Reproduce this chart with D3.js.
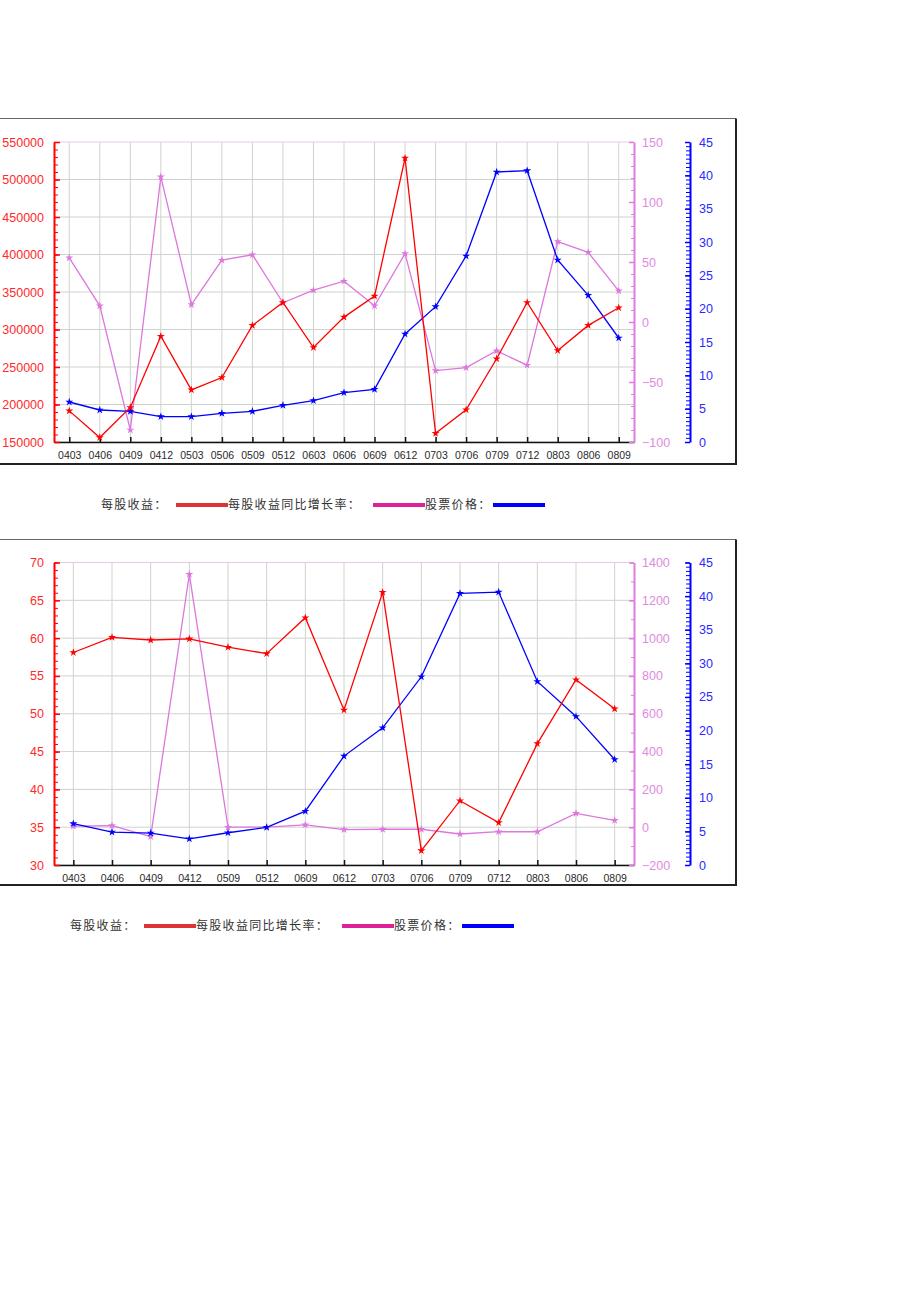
<!DOCTYPE html>
<html>
<head>
<meta charset="utf-8">
<script src="https://cdn.jsdelivr.net/npm/d3@7/dist/d3.min.js"></script>
<style>
  html, body { margin: 0; padding: 0; background: #ffffff; }
  svg { display: block; }
  .lg { font-family: "Noto Sans CJK SC", sans-serif; font-size: 12px; fill: #333333; letter-spacing: 1.3px; }
</style>
</head>
<body>
<svg id="chart" width="920" height="1302"></svg>
<script>
// ---------- Data: chart A (top) ----------
const categoriesA = ["0403","0406","0409","0412","0503","0506","0509","0512","0603","0606","0609","0612","0703","0706","0709","0712","0803","0806","0809"];
const epsA     = [191500,156000,196000,291000,219500,236000,305500,336000,276000,316500,344500,528500,161500,193000,261000,336000,272000,305500,329000];
const growthA  = [53.5,13.5,-90,121,14.5,51.5,56,16,26.5,34,13.5,57,-40.5,-38,-24,-36,67,58,26];
const priceA   = [6.0,4.8,4.6,3.8,3.8,4.3,4.6,5.5,6.2,7.4,7.9,16.2,20.3,27.9,40.5,40.7,27.3,22.0,15.6];
const leftTicksA   = [150000,200000,250000,300000,350000,400000,450000,500000,550000];
const growthTicksA = [-100,-50,0,50,100,150];
const priceTicks   = [0,5,10,15,20,25,30,35,40,45];

// ---------- Data: chart B (bottom) ----------
const categoriesB = ["0403","0406","0409","0412","0509","0512","0609","0612","0703","0706","0709","0712","0803","0806","0809"];
const epsB    = [58.1,60.1,59.75,59.9,58.8,57.95,62.7,50.5,66.05,31.9,38.5,35.6,46.05,54.5,50.65];
const growthB = [6,8,-50,1338,0,0,12,-13,-11,-11,-36,-24,-24,73,36];
const priceB  = [6.15,4.9,4.75,3.9,4.8,5.6,8.0,16.2,20.4,28.0,40.4,40.6,27.3,22.1,15.7];
const leftTicksB   = [30,35,40,45,50,55,60,65,70];
const growthTicksB = [-200,0,200,400,600,800,1000,1200,1400];

const legendLabels = ["每股收益：", "每股收益同比增长率：", "股票价格："];

const C = {
  red: "#ff0000", pink: "#dd77dd", blue: "#0000ff",
  redLbl: "#ff2a2a", pinkLbl: "#e08ae0", blueLbl: "#2a2aff",
  grid: "#cfd3cf",
  lgRed: "#dd3333", lgPink: "#dd2299", lgBlue: "#0000ff"
};

const svg = d3.select("#chart");
const fmt = d3.format("d");

function range(a, b, step) { return d3.range(a, b + step / 2, step); }

function drawChart(cfg) {
  const g = svg.append("g");
  const L = 54, R = 634, BX = 690;
  const T = cfg.top, B = cfg.bottom;

  // frame
  g.append("line").attr("x1", -5).attr("x2", cfg.frameR).attr("y1", cfg.frameT).attr("y2", cfg.frameT)
    .attr("stroke", "#666").attr("stroke-width", 1);
  g.append("line").attr("x1", cfg.frameR).attr("x2", cfg.frameR).attr("y1", cfg.frameT).attr("y2", cfg.frameB)
    .attr("stroke", "#222").attr("stroke-width", 2);
  g.append("line").attr("x1", -5).attr("x2", cfg.frameR + 1).attr("y1", cfg.frameB).attr("y2", cfg.frameB)
    .attr("stroke", "#222").attr("stroke-width", 2);

  const x = d3.scalePoint().domain(cfg.categories).range([L, R]).padding(0.5);
  const yL = d3.scaleLinear().domain(cfg.leftDomain).range([B, T]);
  const yG = d3.scaleLinear().domain(cfg.growthDomain).range([B, T]);
  const yP = d3.scaleLinear().domain([0, 45]).range([B, T]);

  // grid
  const grid = g.append("g");
  grid.selectAll("line.v").data(cfg.categories).join("line")
    .attr("x1", d => x(d)).attr("x2", d => x(d)).attr("y1", T).attr("y2", B)
    .attr("stroke", C.grid).attr("stroke-width", 1);
  grid.selectAll("line.h").data(cfg.leftTicks).join("line")
    .attr("x1", L).attr("x2", R).attr("y1", d => yL(d)).attr("y2", d => yL(d))
    .attr("stroke", d => d === cfg.leftDomain[1] ? "#e6c8e6" : C.grid).attr("stroke-width", 1);

  // x axis
  const xAxis = g.append("g").attr("transform", `translate(0,${B})`)
    .call(d3.axisBottom(x).tickSizeInner(-5).tickSizeOuter(0).tickPadding(10));
  xAxis.select(".domain").attr("stroke", "#111").attr("stroke-width", 1.5);
  xAxis.selectAll(".tick line").attr("stroke", "#111").attr("stroke-width", 1.5);
  xAxis.selectAll("text").attr("fill", "#2a2a2a").attr("font-family", "Liberation Sans, Arial, sans-serif")
    .attr("font-size", 10.5).attr("dy", "0.71em");

  function yAxis(scale, xpos, side, majors, minors, color, lblColor, major, minor, pad) {
    const mk = side === "left" ? d3.axisLeft : d3.axisRight;
    const gm = g.append("g").attr("transform", `translate(${xpos},0)`)
      .call(mk(scale).tickValues(minors).tickSizeInner(-minor).tickSizeOuter(0).tickFormat(""));
    gm.select(".domain").remove();
    gm.selectAll(".tick line").attr("stroke", color).attr("stroke-width", 1);
    const ga = g.append("g").attr("transform", `translate(${xpos},0)`)
      .call(mk(scale).tickValues(majors).tickSizeInner(-major).tickSizeOuter(0).tickPadding(pad).tickFormat(fmt));
    ga.select(".domain").attr("stroke", color).attr("stroke-width", 2);
    ga.selectAll(".tick line").attr("stroke", color).attr("stroke-width", 1.5);
    ga.selectAll("text").attr("fill", lblColor).attr("font-family", "Liberation Sans, Arial, sans-serif")
      .attr("font-size", 12.5);
  }
  yAxis(yL, L, "left", cfg.leftTicks, cfg.leftMinor, C.red, C.redLbl, 6, 4, 10);
  yAxis(yG, R, "right", cfg.growthTicks, cfg.growthMinor, "#e07ce0", C.pinkLbl, 5, 3, 8);
  yAxis(yP, BX, "right", priceTicks, range(0, 45, 0.625), C.blue, C.blueLbl, 5, 4, 9);

  // series
  const series = [
    { vals: cfg.growth, y: yG, color: C.pink },
    { vals: cfg.price, y: yP, color: C.blue },
    { vals: cfg.eps, y: yL, color: C.red }
  ];
  series.forEach(s => {
    const pts = cfg.categories.map((c, i) => [x(c), s.y(s.vals[i])]);
    g.append("path").attr("d", d3.line()(pts)).attr("fill", "none")
      .attr("stroke", s.color).attr("stroke-width", 1.3);
    g.selectAll(null).data(pts).join("path")
      .attr("transform", d => `translate(${d[0]},${d[1]})`)
      .attr("d", d3.symbol(d3.symbolStar, 20)).attr("fill", s.color);
  });

  // legend
  const lg = g.append("g");
  const ly = cfg.legendY;
  const colors = [C.lgRed, C.lgPink, C.lgBlue];
  legendLabels.forEach((t, i) => {
    lg.append("text").attr("class", "lg").attr("x", cfg.legendText[i]).attr("y", ly).attr("dy", "0.36em").text(t);
    lg.append("rect").attr("x", cfg.legendLine[i]).attr("y", ly - 2).attr("width", 52).attr("height", 4).attr("fill", colors[i]);
  });
}

drawChart({
  categories: categoriesA, eps: epsA, growth: growthA, price: priceA,
  leftDomain: [150000, 550000], growthDomain: [-100, 150],
  leftTicks: leftTicksA, leftMinor: range(150000, 550000, 10000),
  growthTicks: growthTicksA, growthMinor: range(-100, 150, 10),
  top: 142, bottom: 442, frameT: 118.5, frameB: 464, frameR: 736,
  legendY: 505, legendText: [101, 228, 425], legendLine: [176, 373, 493]
});

drawChart({
  categories: categoriesB, eps: epsB, growth: growthB, price: priceB,
  leftDomain: [30, 70], growthDomain: [-200, 1400],
  leftTicks: leftTicksB, leftMinor: range(30, 70, 1),
  growthTicks: growthTicksB, growthMinor: range(-200, 1400, 100),
  top: 562.5, bottom: 865, frameT: 539.5, frameB: 885, frameR: 736,
  legendY: 926, legendText: [70, 196, 394], legendLine: [144, 342, 462]
});
</script>
</body>
</html>
